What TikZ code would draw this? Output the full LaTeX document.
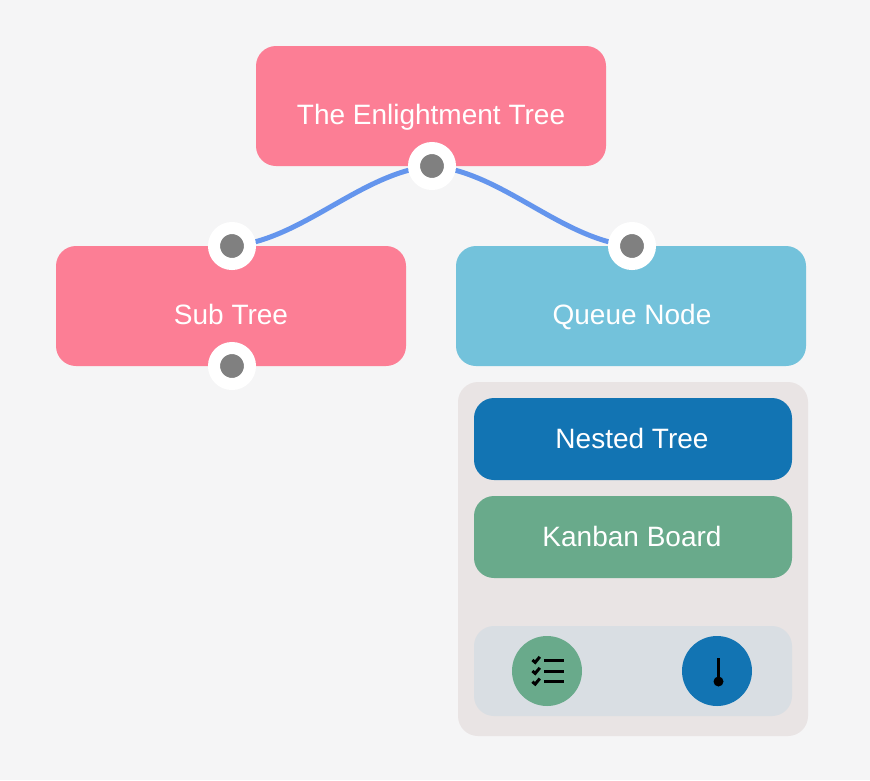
\documentclass[tikz,border=0pt]{standalone}
\usepackage{fontspec}
\setmainfont{Liberation Sans}
\pgfdeclarelayer{pagefill}
\pgfdeclarelayer{boxes}
\pgfdeclarelayer{ports}
\pgfsetlayers{pagefill,boxes,main,ports}
\definecolor{pagebg}{HTML}{F5F5F6}
\definecolor{rosebox}{HTML}{FC7E95}
\definecolor{skybox}{HTML}{73C2DB}
\definecolor{panelbg}{HTML}{E9E4E4}
\definecolor{traybg}{HTML}{D9DEE3}
\definecolor{deepblue}{HTML}{1274B3}
\definecolor{sagegreen}{HTML}{69AA8B}
\definecolor{linkblue}{HTML}{6495ED}
\definecolor{portgray}{HTML}{808080}
\tikzset{
  x=1pt,y=-1pt,
  card/.style={rounded corners=20pt,inner sep=0pt,draw=none,minimum width=350pt,minimum height=120pt},
  rosecard/.style={card,fill=rosebox},
  skycard/.style={card,fill=skybox},
  innercard/.style={rounded corners=20pt,inner sep=0pt,draw=none,minimum width=318pt,minimum height=82pt},
  cardtext/.style={text=white,inner sep=0pt,anchor=base,font=\fontsize{28}{32}\selectfont},
  portdot/.style={circle,fill=portgray,draw=white,line width=12pt,inner sep=0pt,minimum size=36pt},
  iconball/.style={circle,inner sep=0pt,minimum size=70pt,draw=none},
  link/.style={draw=linkblue,line width=5pt},
  iconline/.style={draw=black,line width=3pt}
}
\begin{document}
\begin{tikzpicture}
\useasboundingbox (0,0) rectangle (870,780);
\begin{pgfonlayer}{pagefill}
  \fill[pagebg] (0,0) rectangle (870,780);
\end{pgfonlayer}
\begin{pgfonlayer}{boxes}
  \node[rosecard] (root) at (431,106) {};
  \node[rosecard] (sub) at (231,306) {};
  \node[skycard] (queue) at (631,306) {};
  \node[rounded corners=20pt,inner sep=0pt,fill=panelbg,minimum width=350pt,minimum height=354pt] (panel) at (633,559) {};
  \node[innercard,fill=deepblue] (nested) at (633,439) {};
  \node[innercard,fill=sagegreen] (kanban) at (633,537) {};
  \node[rounded corners=20pt,inner sep=0pt,fill=traybg,minimum width=318pt,minimum height=90pt] (tray) at (633,671) {};
\end{pgfonlayer}
\node[cardtext] (roottext) at (431,124) {The Enlightment Tree};
\node[cardtext] (subtext) at (231,324) {Sub Tree};
\node[cardtext] (queuetext) at (632,324) {Queue Node};
\node[cardtext] (nestedtext) at (632,448) {Nested Tree};
\node[cardtext] (kanbantext) at (632,546) {Kanban Board};
\node[iconball,fill=sagegreen] (listicon) at (547,671) {};
\node[iconball,fill=deepblue] (gaugeicon) at (717,671) {};
\begin{pgfonlayer}{ports}
  \node[portdot] (rootport) at (432,166) {};
  \node[portdot] (subtop) at (232,246) {};
  \node[portdot] (subbottom) at (232,366) {};
  \node[portdot] (queuetop) at (632,246) {};
\end{pgfonlayer}
\draw[link] (rootport.center) .. controls (362,172) and (302,240) .. (subtop.center);
\draw[link] (rootport.center) .. controls (502,172) and (562,240) .. (queuetop.center);
% checklist icon
\foreach \yy in {660,671,681.7}{
  \draw[iconline] (544,\yy) -- (564,\yy);
  \draw[draw=black,line width=3pt] (532.4,\yy) -- (535.2,\yy+2.4) -- (539.8,\yy-3.2);
}
% gauge icon
\draw[draw=black,line width=3pt] (718.5,658) -- (718.5,681);
\fill[black] (718.5,681.5) circle (5pt);
\end{tikzpicture}
\end{document}
